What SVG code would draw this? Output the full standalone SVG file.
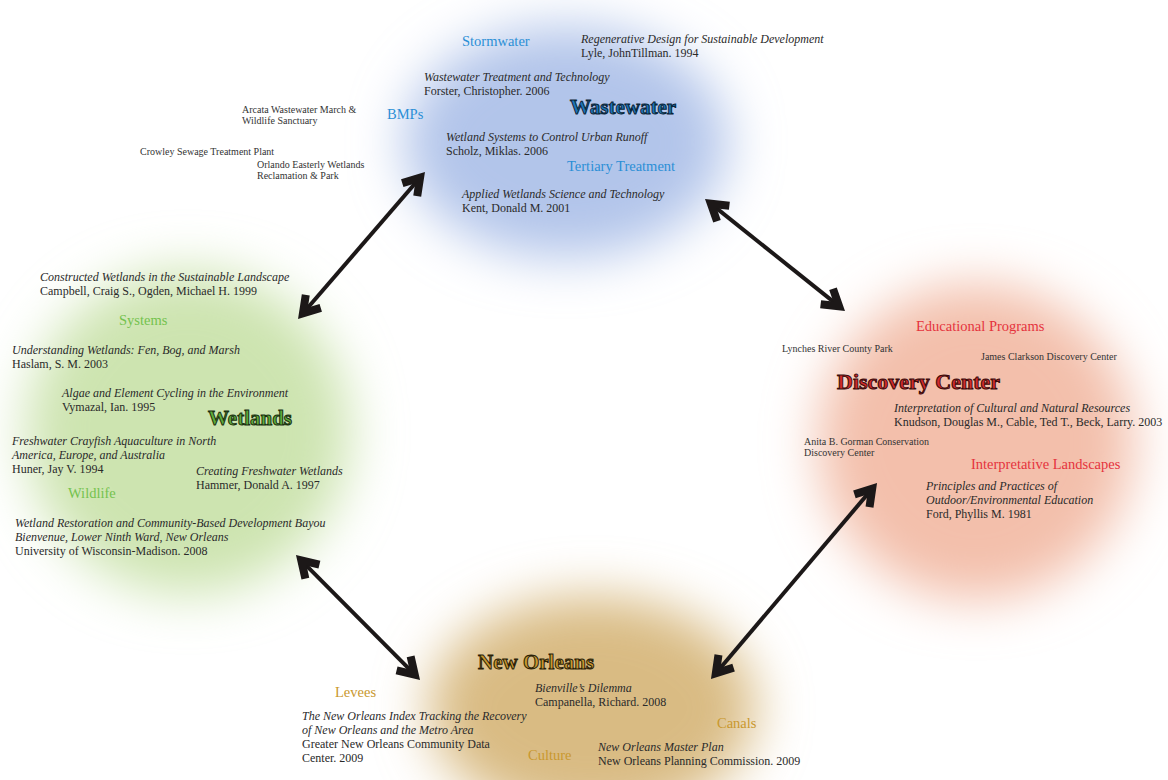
<svg xmlns="http://www.w3.org/2000/svg" width="1168" height="780" viewBox="0 0 1168 780">
<style>
text{font-family:"Liberation Serif","Times New Roman",serif;}
.b{font-size:12px;fill:#2a2a2a;}
.i{font-size:12px;fill:#2a2a2a;font-style:italic;}
.v{font-size:10px;fill:#333;}
.c{font-size:14.5px;}
.t{font-size:21px;font-weight:bold;stroke-width:1;}
.blue{fill:#2b8fd6;}
.green{fill:#74c24e;}
.red{fill:#e5333d;}
.gold{fill:#c9982e;}
.conn line{stroke:#1c1818;stroke-width:4;marker-start:url(#head);marker-end:url(#head);}
</style>
<defs>
<filter id="soft" x="-60%" y="-60%" width="220%" height="220%">
<feGaussianBlur stdDeviation="26"/>
</filter>
<marker id="head" markerUnits="userSpaceOnUse" viewBox="-30 -16 32 32" markerWidth="32" markerHeight="32" refX="-5" refY="0" orient="auto-start-reverse" overflow="visible">
<polygon points="0,0 -21.2,-13.3 -25.4,-6.5 -15.1,0 -25.4,6.5 -21.2,13.3" fill="#1c1818"/>
</marker>
</defs>
<rect width="1168" height="780" fill="#ffffff"/>

<g id="blobs">
<ellipse cx="566" cy="142" rx="162" ry="116" fill="#b2c5ea" filter="url(#soft)"/>
<ellipse cx="188" cy="432" rx="162" ry="162" fill="#cde4b0" filter="url(#soft)"/>
<ellipse cx="976" cy="442" rx="158" ry="158" fill="#f3bfab" filter="url(#soft)"/>
<ellipse cx="592" cy="708" rx="164" ry="112" fill="#d9bb83" filter="url(#soft)"/>
</g>

<g id="connectors" class="conn">
<line x1="301.3" y1="315.2" x2="421.7" y2="175.8"/>
<line x1="708.9" y1="202.1" x2="841.1" y2="307.9"/>
<line x1="873.8" y1="486.8" x2="714.2" y2="675.2"/>
<line x1="299.5" y1="558.6" x2="416.5" y2="676.4"/>
</g>

<g id="wastewater">
<text x="462" y="46" class="c blue">Stormwater</text>
<text x="581" y="43" class="i">Regenerative Design for Sustainable Development</text>
<text x="581" y="57" class="b">Lyle, JohnTillman. 1994</text>
<text x="424" y="81" class="i">Wastewater Treatment and Technology</text>
<text x="424" y="95" class="b">Forster, Christopher. 2006</text>
<text x="570" y="114" class="t" fill="#1b75b8" stroke="#0c2538">Wastewater</text>
<text x="387" y="119" class="c blue">BMPs</text>
<text x="446" y="141" class="i">Wetland Systems to Control Urban Runoff</text>
<text x="446" y="155" class="b">Scholz, Miklas. 2006</text>
<text x="567" y="171" class="c blue">Tertiary Treatment</text>
<text x="462" y="198" class="i">Applied Wetlands Science and Technology</text>
<text x="462" y="212" class="b">Kent, Donald M. 2001</text>
<text x="242" y="113" class="v">Arcata Wastewater March &amp;</text>
<text x="242" y="124" class="v">Wildlife Sanctuary</text>
<text x="140" y="155" class="v">Crowley Sewage Treatment Plant</text>
<text x="257" y="168" class="v">Orlando Easterly Wetlands</text>
<text x="257" y="179" class="v">Reclamation &amp; Park</text>
</g>

<g id="wetlands">
<text x="40" y="281" class="i">Constructed Wetlands in the Sustainable Landscape</text>
<text x="40" y="295" class="b">Campbell, Craig S., Ogden, Michael H. 1999</text>
<text x="119" y="325" class="c green">Systems</text>
<text x="12" y="354" class="i">Understanding Wetlands: Fen, Bog, and Marsh</text>
<text x="12" y="368" class="b">Haslam, S. M. 2003</text>
<text x="62" y="397" class="i">Algae and Element Cycling in the Environment</text>
<text x="62" y="411" class="b">Vymazal, Ian. 1995</text>
<text x="208" y="425" class="t" fill="#5fae3a" stroke="#1a3010">Wetlands</text>
<text x="12" y="445" class="i">Freshwater Crayfish Aquaculture in North</text>
<text x="12" y="459" class="i">America, Europe, and Australia</text>
<text x="12" y="473" class="b">Huner, Jay V. 1994</text>
<text x="196" y="475" class="i">Creating Freshwater Wetlands</text>
<text x="196" y="489" class="b">Hammer, Donald A. 1997</text>
<text x="68" y="498" class="c green">Wildlife</text>
<text x="15" y="527" class="i">Wetland Restoration and Community-Based Development Bayou</text>
<text x="15" y="541" class="i">Bienvenue, Lower Ninth Ward, New Orleans</text>
<text x="15" y="555" class="b">University of Wisconsin-Madison. 2008</text>
</g>

<g id="discovery-center">
<text x="916" y="331" class="c red">Educational Programs</text>
<text x="782" y="352" class="v">Lynches River County Park</text>
<text x="981" y="360" class="v">James Clarkson Discovery Center</text>
<text x="837" y="389" class="t" style="font-size:22px" fill="#d42a2a" stroke="#3a0c0c">Discovery Center</text>
<text x="894" y="412" class="i">Interpretation of Cultural and Natural Resources</text>
<text x="894" y="426" class="b">Knudson, Douglas M., Cable, Ted T., Beck, Larry. 2003</text>
<text x="804" y="445" class="v">Anita B. Gorman Conservation</text>
<text x="804" y="456" class="v">Discovery Center</text>
<text x="971" y="469" class="c red">Interpretative Landscapes</text>
<text x="926" y="490" class="i">Principles and Practices of</text>
<text x="926" y="504" class="i">Outdoor/Environmental Education</text>
<text x="926" y="518" class="b">Ford, Phyllis M. 1981</text>
</g>

<g id="new-orleans">
<text x="478" y="669" class="t" fill="#c9982e" stroke="#2a1e08">New Orleans</text>
<text x="335" y="697" class="c gold">Levees</text>
<text x="535" y="692" class="i">Bienville’s Dilemma</text>
<text x="535" y="706" class="b">Campanella, Richard. 2008</text>
<text x="302" y="720" class="i">The New Orleans Index Tracking the Recovery</text>
<text x="302" y="734" class="i">of New Orleans and the Metro Area</text>
<text x="302" y="748" class="b">Greater New Orleans Community Data</text>
<text x="302" y="762" class="b">Center. 2009</text>
<text x="717" y="728" class="c gold">Canals</text>
<text x="528" y="760" class="c gold">Culture</text>
<text x="598" y="751" class="i">New Orleans Master Plan</text>
<text x="598" y="765" class="b">New Orleans Planning Commission. 2009</text>
</g>
</svg>
